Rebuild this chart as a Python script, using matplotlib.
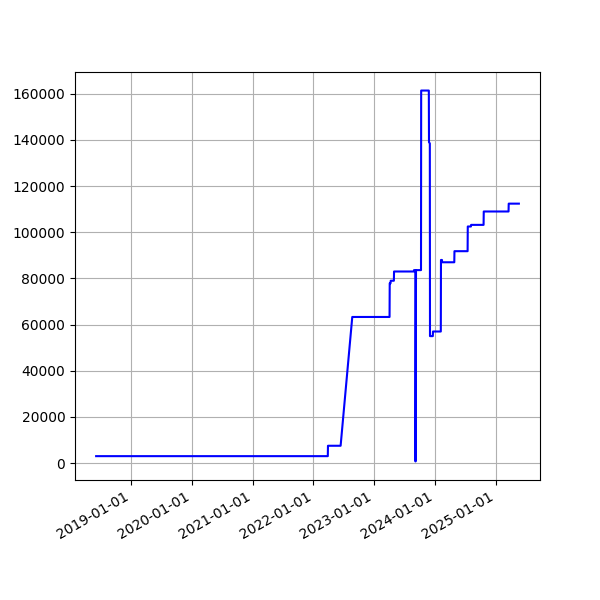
import matplotlib
matplotlib.use('Agg')
import matplotlib.pyplot as plt
import matplotlib.dates as mdates
import pandas as pd

dates = ['2018-06-06', '2022-03-29', '2022-03-30', '2022-06-14', '2022-08-23',
         '2023-04-04', '2023-04-05', '2023-04-10', '2023-04-11', '2023-04-30',
         '2023-05-01', '2023-08-28', '2023-08-29', '2023-09-06', '2023-09-07',
         '2023-09-10', '2023-10-10', '2023-10-11', '2023-11-26', '2023-11-27',
         '2023-12-02', '2023-12-03', '2023-12-20', '2023-12-21', '2024-02-06',
         '2024-02-07', '2024-02-13', '2024-02-14', '2024-04-27', '2024-04-28',
         '2024-07-16', '2024-07-17', '2024-08-05', '2024-08-06', '2024-10-20',
         '2024-10-21', '2025-03-19', '2025-03-20', '2025-05-20']
values = [3000, 3000, 7500, 7500, 63300,
          63300, 77900, 77900, 79000, 79000,
          83000, 83000, 83600, 83600, 700,
          83600, 83600, 161400, 161400, 139000,
          138500, 55000, 55000, 57000, 57000,
          88000, 88000, 87000, 87000, 91800,
          91800, 102500, 102500, 103200, 103200,
          109000, 109000, 112400, 112400]

x = pd.to_datetime(dates)

fig = plt.figure(figsize=(6, 6), dpi=100)
ax = fig.add_subplot(111)
ax.plot(x, values, color='blue')
ax.xaxis.set_major_locator(mdates.YearLocator())
ax.xaxis.set_major_formatter(mdates.DateFormatter('%Y-%m-%d'))
ax.grid(True)
fig.autofmt_xdate()

fig.savefig('out.png')
